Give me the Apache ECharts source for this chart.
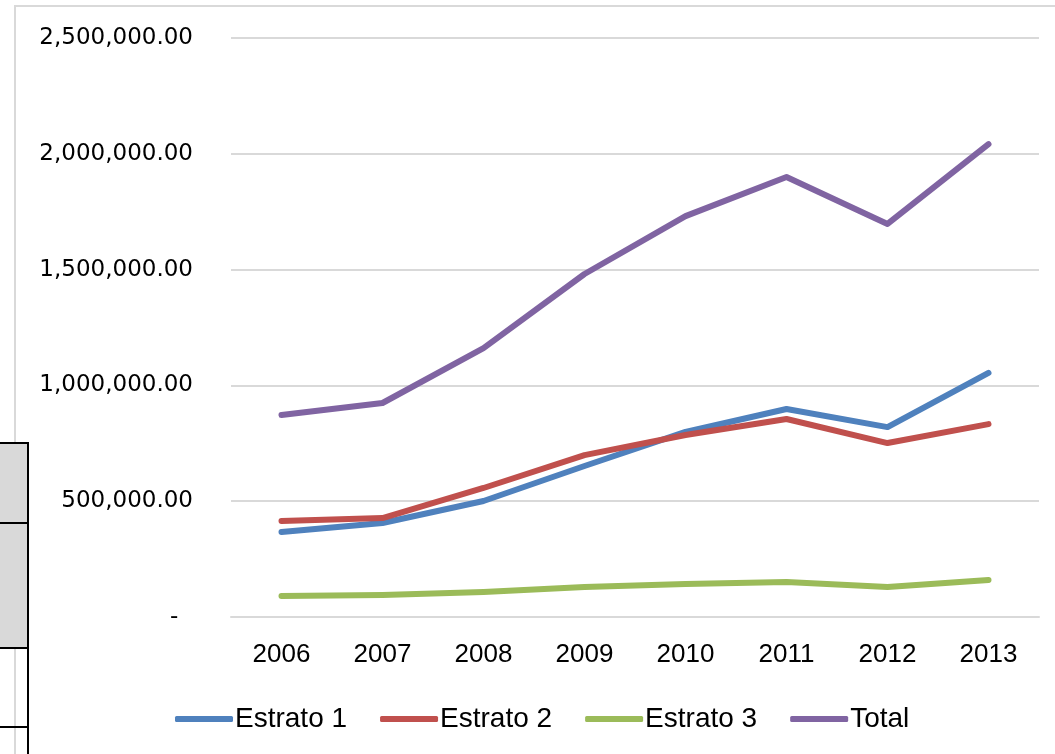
<!DOCTYPE html>
<html>
<head>
<meta charset="utf-8">
<script src="https://cdn.jsdelivr.net/npm/echarts@6/dist/echarts.min.js"></script>
<style>
  html, body { margin: 0; padding: 0; background: #fff; }
  #chart { width: 1055px; height: 754px; }
</style>
</head>
<body>
<div id="chart"></div>
<script>
// data
const years = ['2006', '2007', '2008', '2009', '2010', '2011', '2012', '2013'];
const estrato1 = [367000, 406000, 501000, 652000, 799000, 898000, 820000, 1054000];
const estrato2 = [415000, 427000, 557000, 699000, 786000, 855000, 751000, 833000];
const estrato3 = [91000, 95000, 108000, 130000, 142000, 151000, 130000, 160000];
const total = [872000, 924000, 1161000, 1481000, 1731000, 1900000, 1697000, 2042000];

const seriesNames = ['Estrato 1', 'Estrato 2', 'Estrato 3', 'Total'];
const colors = ['#4f81bd', '#c0504d', '#9bbb59', '#8064a2'];

const sans = "'Liberation Sans', Arial, sans-serif";

// accounting style: zero shows as a dash
function fmt(v) {
  if (v === 0) return '-  ';
  return v.toFixed(2).replace(/\B(?=(\d{3})+(?!\d))/g, ',');
}

function line(name, data, color) {
  return {
    name: name,
    type: 'line',
    data: data,
    symbol: 'none',
    lineStyle: { width: 6, color: color, cap: 'round', join: 'round' },
    itemStyle: { color: color },
    animation: false
  };
}

const chart = echarts.init(document.getElementById('chart'));
chart.setOption({
  backgroundColor: '#fff',
  animation: false,
  grid: { left: 231, right: 16, top: 38, bottom: 137 },
  legend: {
    data: seriesNames,
    left: 170,
    top: 700,
    itemWidth: 58,
    itemHeight: 6,
    itemGap: 33,
    icon: 'roundRect',
    textStyle: { fontFamily: sans, fontSize: 28, color: '#000', padding: [0, 0, 0, -3] }
  },
  xAxis: {
    type: 'category',
    data: years,
    boundaryGap: true,
    axisLine: { lineStyle: { color: '#d9d9d9', width: 2 } },
    axisTick: { show: false },
    axisLabel: { fontFamily: sans, fontSize: 26, color: '#000', margin: 25 }
  },
  yAxis: {
    type: 'value',
    min: 0,
    max: 2500000,
    interval: 500000,
    axisLine: { show: false },
    axisTick: { show: false },
    splitLine: { lineStyle: { color: '#d9d9d9', width: 2 } },
    axisLabel: {
      fontFamily: "'DejaVu Sans', Verdana, sans-serif",
      fontSize: 23,
      color: '#000',
      margin: 38,
      formatter: fmt
    }
  },
  series: [
    line(seriesNames[0], estrato1, colors[0]),
    line(seriesNames[1], estrato2, colors[1]),
    line(seriesNames[2], estrato3, colors[2]),
    line(seriesNames[3], total, colors[3])
  ],
  graphic: [
    // chart area border
    { type: 'rect', z: -1, shape: { x: 15, y: 6, width: 1100, height: 800 },
      style: { fill: null, stroke: '#d9d9d9', lineWidth: 2 } },
    // spreadsheet cells peeking in on the left
    { type: 'rect', z: 10, shape: { x: -5, y: 443, width: 33, height: 205 },
      style: { fill: '#d9d9d9', stroke: '#000', lineWidth: 2 } },
    { type: 'line', z: 10, shape: { x1: 0, y1: 523, x2: 28, y2: 523 },
      style: { stroke: '#000', lineWidth: 2 } },
    { type: 'line', z: 10, shape: { x1: 28, y1: 648, x2: 28, y2: 760 },
      style: { stroke: '#000', lineWidth: 2 } },
    { type: 'line', z: 10, shape: { x1: 0, y1: 727, x2: 28, y2: 727 },
      style: { stroke: '#000', lineWidth: 2 } }
  ]
});
</script>
</body>
</html>
